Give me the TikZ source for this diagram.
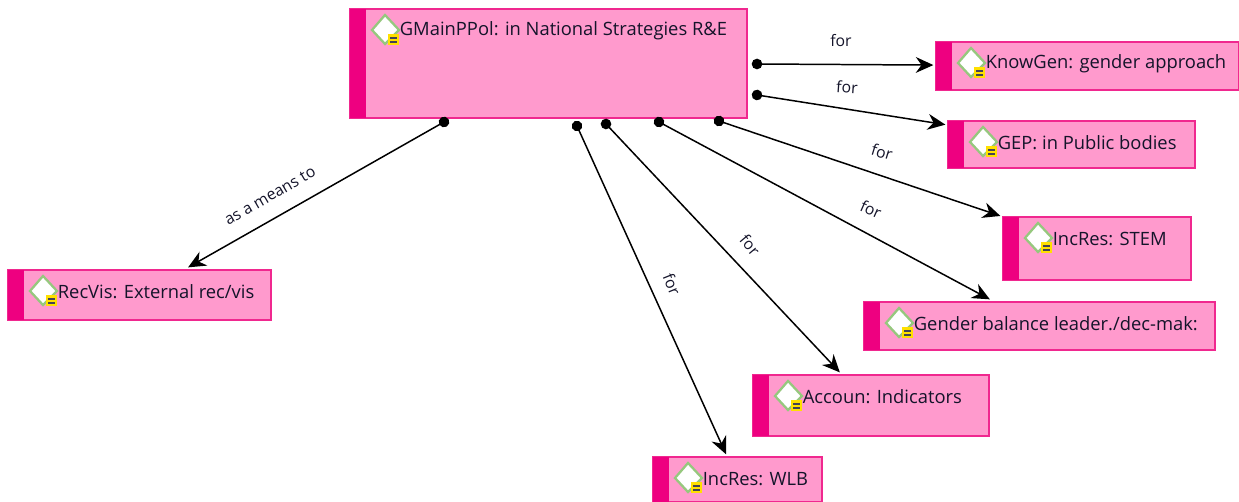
\documentclass[tikz,border=0pt]{standalone}
\usepackage{fontspec}
\setmainfont{Open Sans}
\usetikzlibrary{calc,arrows.meta}
\definecolor{boxfill}{HTML}{FF9ACD}
\definecolor{boxline}{HTML}{F0288F}
\definecolor{boxstrip}{HTML}{EE0080}
\definecolor{markline}{HTML}{96C87E}
\definecolor{noteyellow}{HTML}{FFE000}
\definecolor{textdark}{HTML}{14142A}
\tikzset{
	conceptbox/.style={draw=boxline,fill=boxfill,line width=1.1pt,inner sep=0pt,outer sep=1.5pt},
	conceptname/.style={anchor=west,inner sep=0pt,text=textdark,font=\fontsize{10.45}{12}\selectfont},
	linkname/.style={inner sep=0pt,text=textdark,font=\fontsize{9}{10}\selectfont},
	link/.style={line width=0.85pt,{Circle[length=6pt,sep=-3pt]}-{Stealth[length=10pt,width=9pt]}},
}
% name, left, top, right, bottom, text
\newcommand{\conceptnode}[6]{
\node[conceptbox,minimum width={(#4-#2)*0.02cm},minimum height={(#5-#3)*0.02cm}] (#1) at ({(#2+#4)/2},{(#3+#5)/2}) {};
\fill[boxstrip] (#2,#3) rectangle (#2+16,#5);
\draw[markline,fill=white,line width=1.3pt] (#2+22,#3+21) -- (#2+35,#3+6) -- (#2+49,#3+21) -- (#2+35,#3+35) -- cycle;
\fill[noteyellow] (#2+38,#3+25) rectangle (#2+49,#3+36);
\fill[textdark!80] (#2+40,#3+28) rectangle (#2+47,#3+30);
\fill[textdark!80] (#2+40,#3+32) rectangle (#2+47,#3+34);
\node[conceptname] (#1text) at (#2+49.5,#3+22) {#6};
}
\begin{document}
\begin{tikzpicture}[x=0.02cm,y=-0.02cm]
\useasboundingbox (0,0) rectangle (1239,502);
\conceptnode{main}{350}{9}{747}{118}{GMainPPol: in National Strategies R\&E}
\conceptnode{know}{936}{42}{1239}{90}{KnowGen: gender approach}
\conceptnode{gep}{948}{121}{1195}{168}{GEP: in Public bodies}
\conceptnode{stem}{1003}{217}{1191}{280}{IncRes: STEM}
\conceptnode{balance}{864}{302}{1215}{350}{Gender balance leader./dec-mak:}
\conceptnode{accoun}{753}{375}{989}{436}{Accoun: Indicators}
\conceptnode{wlb}{653}{457}{822}{502}{IncRes: WLB}
\conceptnode{recvis}{8}{270}{271}{320}{RecVis: External rec/vis}

\coordinate (startknow) at (757,64);
\coordinate (startgep) at (757,95);
\coordinate (startstem) at (719,121);
\coordinate (startbalance) at (659,122);
\coordinate (startaccoun) at (606,124);
\coordinate (startwlb) at (577,126);
\coordinate (startrecvis) at (444,122);

\draw[link] (startknow) -- (know);
\draw[link] (startgep) -- (gep);
\draw[link] (startstem) -- (stem);
\draw[link] (startbalance) -- (balance);
\draw[link] (startaccoun) -- (accoun);
\draw[link] (startwlb) -- (wlb);
\draw[link] (startrecvis) -- (recvis);

\node[linkname] (forknow) at (841,41) {for};
\node[linkname,rotate=-4] (forgep) at (847,87) {for};
\node[linkname,rotate=-17] (forstem) at (882,152) {for};
\node[linkname,rotate=-24] (forbalance) at (871,209) {for};
\node[linkname,rotate=-50] (foraccoun) at (750,245) {for};
\node[linkname,rotate=-68] (forwlb) at (672,284) {for};
\node[linkname,rotate=30] (meansrecvis) at (270,196) {as a means to};
\end{tikzpicture}
\end{document}
